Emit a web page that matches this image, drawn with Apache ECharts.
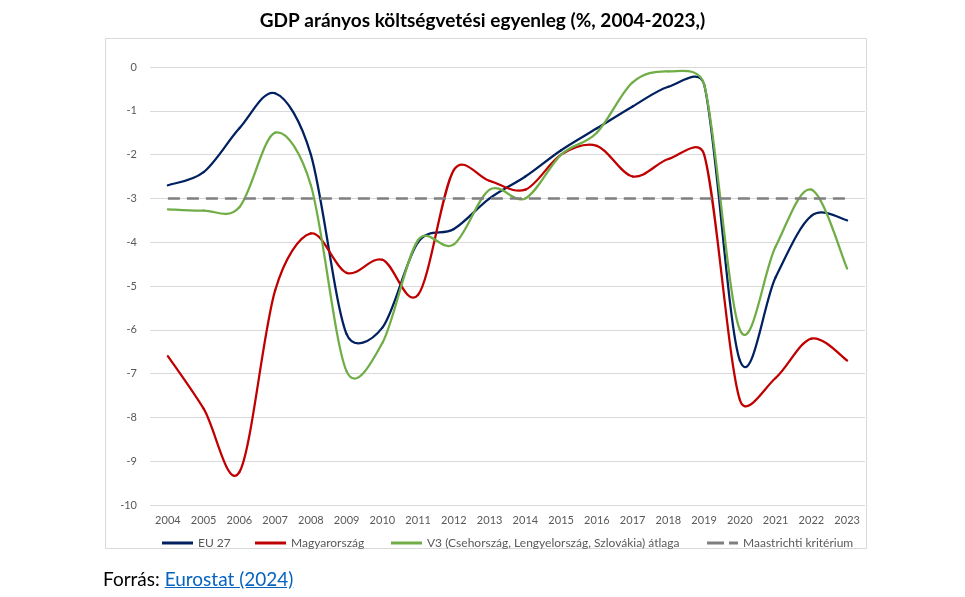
<!DOCTYPE html>
<html>
<head>
<meta charset="utf-8">
<script src="https://cdn.jsdelivr.net/npm/echarts@6/dist/echarts.min.js"></script>
<style>
  html, body { margin: 0; padding: 0; background: #ffffff; }
  #chart { width: 965px; height: 597px; position: absolute; left: 0; top: 0; }
  #source { position: absolute; left: 103px; top: 567px; font-family: Lato, "Open Sans", sans-serif; font-size: 19px; line-height: 24px; color: #000; }
  #source a { color: #0563C1; text-decoration: underline; }
</style>
</head>
<body>
<div id="chart"></div>
<div id="source">Forrás: <a href="#">Eurostat (2024)</a></div>
<script>
const titleText = 'GDP arányos költségvetési egyenleg (%, 2004-2023,)';
const years = ['2004','2005','2006','2007','2008','2009','2010','2011','2012','2013','2014','2015','2016','2017','2018','2019','2020','2021','2022','2023'];
const eu27 = [-2.7,-2.4,-1.4,-0.6,-2.0,-6.1,-5.95,-4.0,-3.7,-3.0,-2.5,-1.9,-1.4,-0.9,-0.45,-0.4,-6.7,-4.8,-3.4,-3.5];
const hungary = [-6.6,-7.8,-9.25,-5.1,-3.8,-4.7,-4.4,-5.2,-2.35,-2.6,-2.8,-2.0,-1.8,-2.5,-2.1,-2.0,-7.6,-7.1,-6.2,-6.7];
const v3 = [-3.25,-3.28,-3.2,-1.5,-2.7,-6.95,-6.3,-3.95,-4.05,-2.8,-3.0,-2.0,-1.5,-0.35,-0.1,-0.4,-6.0,-4.1,-2.8,-4.6];
const maastricht = [-3,-3,-3,-3,-3,-3,-3,-3,-3,-3,-3,-3,-3,-3,-3,-3,-3,-3,-3,-3];
const names = ['EU 27','Magyarország','V3 (Csehország, Lengyelország, Szlovákia) átlaga','Maastrichti kritérium'];
const yTicks = {min: -10, max: 0, interval: 1};

const font = 'Lato, "Open Sans", sans-serif';
const colors = ['#002060', '#c00000', '#70ad47', '#7f7f7f'];

// Smoothed line (Excel-like Bezier) drawn segment by segment through the axis scales
function smoothRender(arr, color) {
  return function (params, api) {
    const i = params.dataIndex;
    const n = arr.length;
    if (i >= n - 1) return null;
    const P = j => api.coord([j, arr[j]]);
    const p1 = P(i), p2 = P(i + 1);
    const p0 = i > 0 ? P(i - 1) : p1;
    const p3 = i + 2 < n ? P(i + 2) : p2;
    const d = Math.hypot(p2[0] - p1[0], p2[1] - p1[1]);
    function cp(base, a, b, sign) {
      const tx = b[0] - a[0], ty = b[1] - a[1];
      const L = Math.hypot(tx, ty) || 1;
      let f = 1 / 6;
      if (L * f > d / 2) f = d / 2 / L;
      return [base[0] + sign * tx * f, base[1] + sign * ty * f];
    }
    const c1 = cp(p1, p0, p2, 1);
    const c2 = cp(p2, p1, p3, -1);
    return {
      type: 'bezierCurve',
      shape: {x1: p1[0], y1: p1[1], x2: p2[0], y2: p2[1], cpx1: c1[0], cpy1: c1[1], cpx2: c2[0], cpy2: c2[1]},
      style: {stroke: color, lineWidth: 2.25, fill: 'none', lineCap: 'round'}
    };
  };
}
function smoothSeries(name, arr, color, z) {
  return {
    name: name, type: 'custom', z: z,
    data: arr.map((v, i) => [i, v]),
    encode: {x: 0, y: 1},
    itemStyle: {color: color},
    renderItem: smoothRender(arr, color)
  };
}

const chart = echarts.init(document.getElementById('chart'));
const legendBase = {
  top: 532, itemWidth: 31, itemHeight: 3, itemGap: 0,
  textStyle: {fontFamily: font, fontSize: 12, color: '#595959'}
};
const solidIcon = 'path://M0,0h31v3h-31z';
const dashIcon = 'path://M0,0h17v3h-17z M22,0h9v3h-9z';
chart.setOption({
  animation: false,
  textStyle: {fontFamily: font},
  title: {
    text: titleText, left: 'center', top: 6, padding: [5, 0, 5, 10],
    textStyle: {fontFamily: font, fontSize: 19, fontWeight: 'bold', color: '#000'}
  },
  graphic: [{
    type: 'rect', left: 105, top: 38, z: -10,
    shape: {width: 761, height: 510},
    style: {fill: '#ffffff', stroke: '#d9d9d9', lineWidth: 1}
  }],
  grid: {left: 150, right: 100, top: 67, bottom: 92, containLabel: false},
  legend: [
    Object.assign({left: 157, data: [{name: names[0], icon: solidIcon}]}, legendBase),
    Object.assign({left: 250, data: [{name: names[1], icon: solidIcon}]}, legendBase),
    Object.assign({left: 386, data: [{name: names[2], icon: solidIcon}]}, legendBase),
    Object.assign({left: 702, data: [{name: names[3], icon: dashIcon}]}, legendBase)
  ],
  xAxis: {
    type: 'category', data: years, boundaryGap: true,
    axisLine: {show: false}, axisTick: {show: false},
    axisLabel: {color: '#595959', fontSize: 11, margin: 10, interval: 0}
  },
  yAxis: {
    type: 'value', min: yTicks.min, max: yTicks.max, interval: yTicks.interval,
    axisLine: {show: false}, axisTick: {show: false},
    axisLabel: {color: '#595959', fontSize: 11, margin: 13},
    splitLine: {lineStyle: {color: '#d9d9d9', width: 1}}
  },
  series: [
    smoothSeries(names[0], eu27, colors[0], 2),
    smoothSeries(names[1], hungary, colors[1], 3),
    smoothSeries(names[2], v3, colors[2], 4),
    {name: names[3], type: 'line', data: maastricht, symbol: 'none', z: 5,
     lineStyle: {color: colors[3], width: 2.5, type: [12, 7]}, itemStyle: {color: colors[3]}}
  ]
});
</script>
</body>
</html>
